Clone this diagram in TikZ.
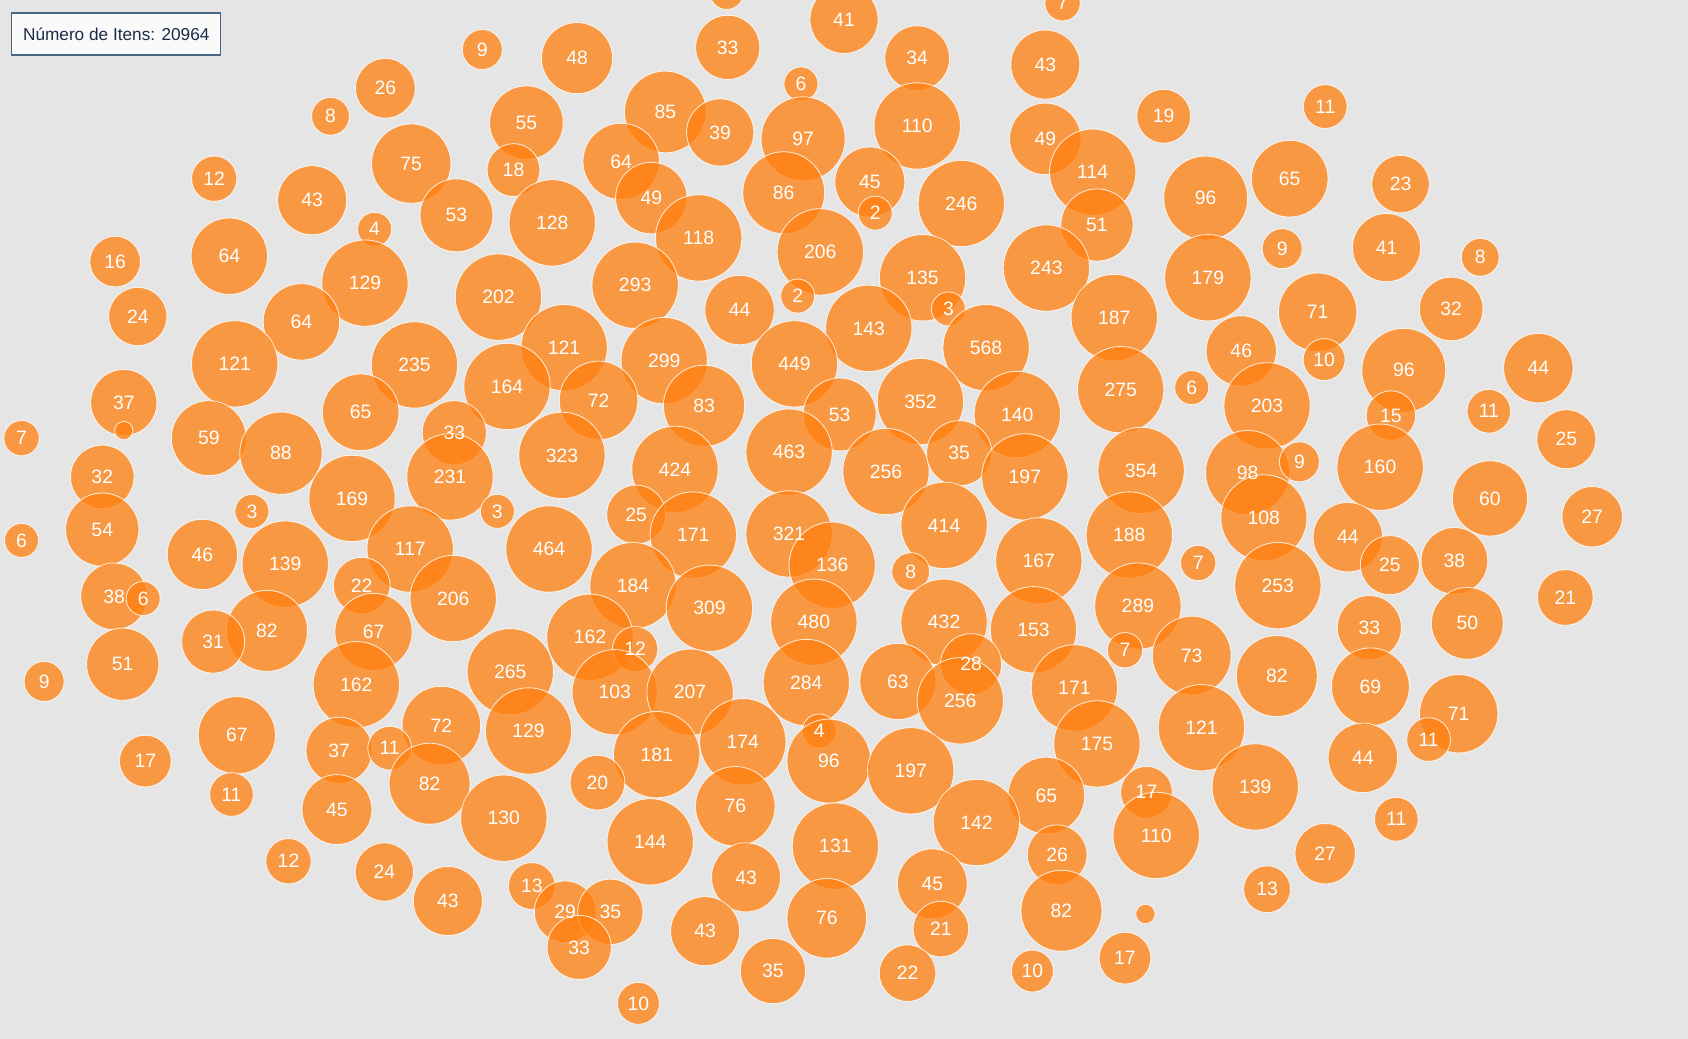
\documentclass[tikz,border=0pt]{standalone}
\usepackage{fontspec}
\setmainfont{Liberation Sans}

\definecolor{bubbleorange}{HTML}{FF7F0E}
\definecolor{plotbg}{HTML}{E5E5E5}
\definecolor{boxborder}{HTML}{4A6785}
\definecolor{boxtext}{HTML}{1C2B4A}

\tikzset{
    bubble/.style={circle, inner sep=0pt, fill=bubbleorange, fill opacity=0.75,
        draw=white, draw opacity=0.8, line width=0.8pt},
    bubblelabel/.style={inner sep=0pt, text=white, font=\fontsize{18}{20}\selectfont},
    countbox/.style={draw=boxborder, line width=1.2pt, fill=white!98!black,
        text=boxtext, minimum width=194pt, minimum height=39pt,
        font=\fontsize{16}{18}\selectfont}
}

% One bubble per group: x / y / number of items
\def\bubbledata{
    987/3/7, 784/18/41, 448/46/9, 536/54/48, 676/44/33, 852/54/34, 971/60/43,
    358/82/26, 307/108/8, 744/78/6, 489/114/55, 618/104/85, 669/123/39,
    746/129/97, 852/117/110, 971/129/49, 1081/108/19, 1231/99/11,
    382/152/75, 477/158/18, 577/150/64, 1015/160/114, 199/166/12, 290/186/43,
    424/200/53, 513/207/128, 605/184/49, 728/179/86, 808/169/45, 813/198/2,
    893/189/246, 1120/184/96, 1198/166/65, 1301/171/23,
    348/213/4, 649/221/118, 762/234/206, 1019/209/51, 1191/231/9,
    1288/230/41, 1375/239/8, 107/243/16, 213/238/64, 339/263/129,
    463/276/202, 590/265/293, 741/275/2, 857/258/135, 972/249/243,
    1122/258/179, 128/294/24, 280/299/64, 687/288/44, 807/305/143,
    881/287/3, 1035/295/187, 1224/290/71, 1348/287/32,
    218/338/121, 385/339/235, 524/323/121, 617/335/299, 738/338/449,
    916/323/568, 1153/326/46, 1230/334/10, 1304/344/96, 1429/342/44,
    115/374/37, 471/359/164, 556/372/72, 654/377/83, 780/385/53,
    855/373/352, 945/385/140, 1041/362/275, 1107/360/6, 1177/377/203,
    1292/386/15, 1383/382/11, 20/407/7, 194/407/59, 335/383/65,
    261/421/88, 422/402/33, 522/423/323, 627/436/424, 733/420/463,
    823/438/256, 891/421/35, 952/443/197, 1060/437/354, 1159/439/98,
    1207/429/9, 1282/434/160, 1455/408/25, 95/443/32, 418/443/231,
    234/475/3, 327/463/169, 462/475/3, 591/478/25, 644/497/171,
    733/496/321, 877/488/414, 1384/463/60, 1479/480/27, 20/502/6,
    95/492/54, 188/515/46, 265/524/139, 381/510/117, 510/510/464,
    773/525/136, 846/531/8, 965/521/167, 1049/497/188, 1113/523/7,
    1174/481/108, 1252/499/44, 1291/525/25, 1351/521/38, 336/544/22,
    421/556/206, 588/544/184, 106/554/38, 133/556/6, 1187/544/253,
    1454/555/21, 248/586/82, 347/587/67, 198/596/31, 548/592/162,
    590/603/12, 659/565/309, 756/578/480, 877/578/432, 960/585/153,
    1057/563/289, 1045/604/7, 1107/609/73, 1272/583/33, 1363/579/50,
    114/617/51, 41/633/9, 331/636/162, 474/624/265, 571/643/103,
    641/643/207, 749/634/284, 834/633/63, 902/617/28, 892/651/256,
    998/639/171, 1186/628/82, 1273/638/69, 1355/663/71,
    220/683/67, 410/674/72, 491/679/129, 315/697/37, 362/695/11,
    761/679/4, 690/689/174, 610/701/181, 770/707/96, 846/716/197,
    1019/691/175, 1116/676/121, 1266/704/44, 1327/687/11,
    135/707/17, 215/738/11, 399/728/82, 555/727/20, 313/752/45,
    468/760/130, 683/749/76, 972/739/65, 1065/736/17, 907/764/142,
    1074/776/110, 1166/731/139, 1297/761/11, 604/782/144, 776/786/131,
    268/800/12, 357/810/24, 416/837/43, 494/823/13, 693/815/43,
    866/821/45, 982/794/26, 1231/793/27, 1177/826/13, 986/846/82,
    525/847/29, 567/847/35, 538/880/33, 655/865/43, 768/853/76,
    874/863/21, 1045/890/17, 718/902/35, 843/904/22, 959/902/10,
    593/932/10}

\begin{document}
\begin{tikzpicture}[x=1pt, y=-1pt]

    % Grey plot area, fixes the size of the page
    \fill[plotbg] (0,0) rectangle (1568,965);
    \useasboundingbox (0,0) rectangle (1568,965);

    % Bubble cut by the top edge, its number is off the page
    \node[bubble, minimum size=31.6pt] (topcut) at (675,-7) {};

    % First all the circles, radius grows with the log of the count
    \foreach \x/\y/\v [count=\i] in \bubbledata {
        \pgfmathsetmacro\rad{max(15.8,min(40.1,8.62*ln(\v)-0.36))}
        \node[bubble, minimum size=2*\rad pt] (b\i) at (\x,\y) {};
    }

    % Tiny bubbles with no number on them
    \node[bubble, minimum size=17pt] (dotleft) at (115,400) {};
    \node[bubble, minimum size=18pt] (dotright) at (1064,849) {};

    % Then the numbers, so that no circle covers them
    \foreach \x/\y/\v [count=\i] in \bubbledata {
        \node[bubblelabel] at (b\i) {\v};
    }

    % Box with the total count in the top left corner
    \node[countbox] (total) at (108,31.5) {Número de Itens: 20964};

\end{tikzpicture}
\end{document}
